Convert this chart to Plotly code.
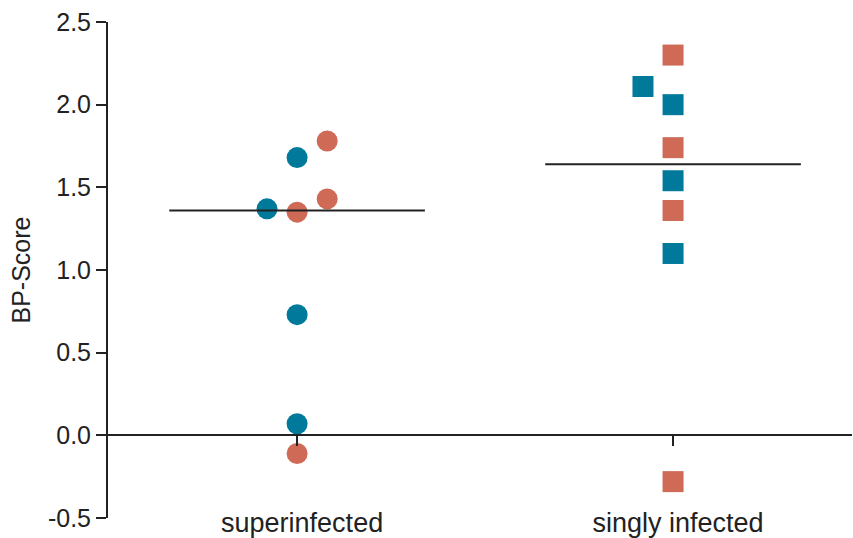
import plotly.graph_objects as go
import numpy as np

categories = ["superinfected", "singly infected"]
# BP-Score values per category, split by colour series
super_blue = [1.68, 1.37, 0.73, 0.07]
super_red = [1.78, 1.35, 1.43, -0.11]
single_blue = [2.11, 2.00, 1.54, 1.10]
single_red = [2.30, 1.74, 1.36, -0.28]
y_ticks = [-0.5, 0.0, 0.5, 1.0, 1.5, 2.0, 2.5]
y_ticktext = ["-0.5", "0.0", "0.5", "1.0", "1.5", "2.0", "2.5"]

BLUE = "#00799a"
RED = "#cf6a56"
INK = "#222222"
FONT = "Liberation Sans, Arial, sans-serif"

Y_RANGE = [-0.5, 2.5]
X_RANGE = [-0.503, 1.476]
MARGIN = dict(l=108, r=1, t=22, b=0, autoexpand=False)
H, W = 538, 853
MS = 21  # marker size px
STEP = 0.08  # swarm step in x units
plot_h = H - MARGIN["t"] - MARGIN["b"]
dom0 = 20 / plot_h
px_per_unit = (plot_h * (1 - dom0)) / (Y_RANGE[1] - Y_RANGE[0])
thr = MS / px_per_unit


def swarm(blue, red):
    """simple beeswarm: ascending order, blue shifts left, red right on collision"""
    pts = [(v, "b") for v in blue] + [(v, "r") for v in red]
    pts.sort(key=lambda p: p[0])
    placed = []
    out = {"b": [], "r": []}
    for v, s in pts:
        d = -1 if s == "b" else 1
        slot = 0
        while any(ps == slot and abs(pv - v) < thr for pv, ps in placed):
            slot += d
        placed.append((v, slot))
        out[s].append((v, slot * STEP))
    return out


fig = go.Figure()
symbols = ["circle", "square"]
groups = [(super_blue, super_red), (single_blue, single_red)]
for ci, (cat, (b, r)) in enumerate(zip(categories, groups)):
    sw = swarm(b, r)
    for key, col in (("b", BLUE), ("r", RED)):
        vals = [p[0] for p in sw[key]]
        xs = [ci + p[1] for p in sw[key]]
        fig.add_trace(go.Scatter(
            x=xs, y=vals, mode="markers",
            marker=dict(size=MS, color=col, symbol=symbols[ci], line=dict(width=0)),
            showlegend=False, hoverinfo="y"))
    med = float(np.median(b + r))
    fig.add_trace(go.Scatter(
        x=[ci - 0.34, ci + 0.34], y=[med, med], mode="lines",
        line=dict(color=INK, width=2), showlegend=False, hoverinfo="skip",
        xaxis="x2"))

zero_pos = dom0 + (0 - Y_RANGE[0]) / (Y_RANGE[1] - Y_RANGE[0]) * (1 - dom0)

fig.update_layout(
    width=W, height=H, margin=MARGIN,
    paper_bgcolor="white", plot_bgcolor="white",
    font=dict(family=FONT, size=25, color=INK),
    xaxis=dict(range=X_RANGE, tickvals=[0, 1], ticktext=categories,
               showgrid=False, zeroline=False, showline=False, ticks="",
               anchor="y", ticklabelstandoff=-14, ticklabelshift=5,
               automargin=False, tickfont=dict(size=27)),
    xaxis2=dict(range=X_RANGE, tickvals=[0, 1], overlaying="x", matches="x",
                anchor="free", position=zero_pos, side="bottom",
                automargin=False,
                showgrid=False, zeroline=False, showline=True, linecolor=INK,
                linewidth=2, ticks="outside", ticklen=10, tickwidth=2,
                tickcolor=INK, showticklabels=False),
    yaxis=dict(range=Y_RANGE, domain=[dom0, 1], tickvals=y_ticks,
               ticktext=y_ticktext, showgrid=False, zeroline=False,
               automargin=False,
               showline=True, linecolor=INK, linewidth=2, ticks="outside",
               ticklen=10, tickwidth=2, tickcolor=INK,
               title=dict(text="BP-Score", standoff=10, font=dict(size=25))),
)

fig.write_html("out.html", config={"displayModeBar": False})
# remove the browser's default 8px body margin so the figure sits at (0, 0)
with open("out.html", encoding="utf-8") as fh:
    html = fh.read()
html = html.replace("<body>", '<body style="margin:0;overflow:hidden">', 1)
with open("out.html", "w", encoding="utf-8") as fh:
    fh.write(html)
